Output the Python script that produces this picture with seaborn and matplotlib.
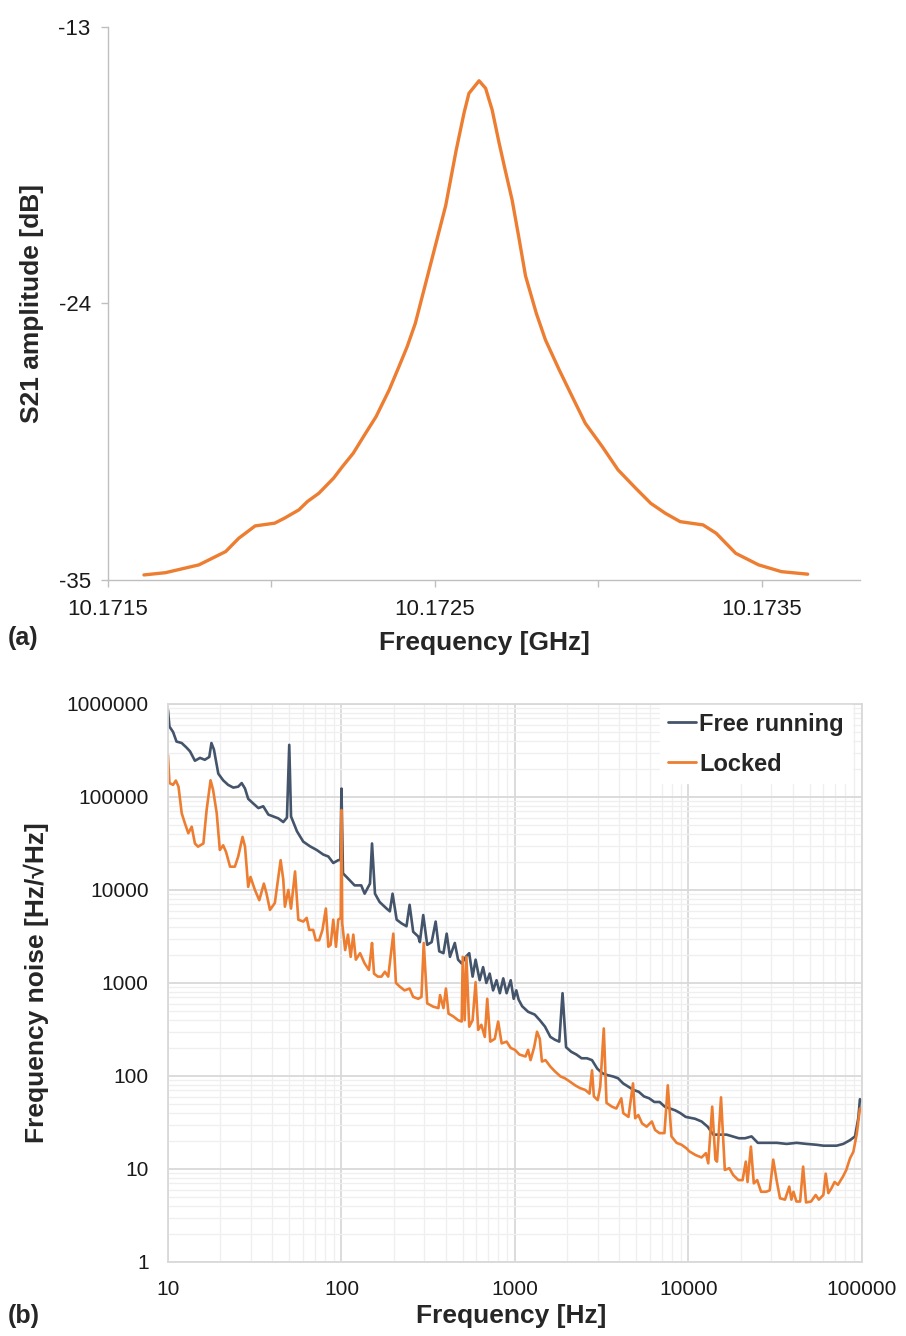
import pandas as pd
import matplotlib
matplotlib.use("Agg")
import matplotlib.pyplot as plt
import matplotlib.ticker as mticker
import seaborn as sns

# ---- panel (a): S21 resonance ----
s21_freq_ghz = [10.17161, 10.171676, 10.171778, 10.17186, 10.1719, 10.17195, 10.17201,
                10.17204, 10.172084, 10.17211, 10.172145, 10.17219, 10.172217, 10.17225,
                10.172288, 10.17232, 10.17236, 10.17239, 10.172415, 10.17244, 10.172461,
                10.17249, 10.172533, 10.172565, 10.172589, 10.172604, 10.172635, 10.172655,
                10.172675, 10.172696, 10.172715, 10.172736, 10.172757, 10.172777, 10.17281,
                10.172838, 10.17288, 10.17292, 10.17296, 10.173012, 10.17306, 10.173114,
                10.17316, 10.173205, 10.17325, 10.17332, 10.17336, 10.17342, 10.17349,
                10.17356, 10.17364]
s21_db = [-34.80, -34.71, -34.40, -33.87, -33.34, -32.85, -32.74,
          -32.54, -32.21, -31.88, -31.55, -30.95, -30.49, -29.96,
          -29.16, -28.50, -27.44, -26.51, -25.72, -24.79, -23.73,
          -22.27, -20.10, -17.90, -16.42, -15.64, -15.14, -15.44,
          -16.30, -17.60, -18.70, -19.88, -21.40, -22.90, -24.39,
          -25.45, -26.64, -27.71, -28.77, -29.70, -30.62, -31.35,
          -31.95, -32.35, -32.68, -32.81, -33.14, -33.94, -34.40,
          -34.67, -34.77]

# ---- panel (b): frequency noise spectra ----
free_freq = [10, 10.2, 10.7, 11.2, 12.0, 12.8, 13.4, 14.3, 15.3, 16.3, 17.3, 17.8, 18.4,
             19.5, 20.8, 22.2, 23.8, 25.4, 26.6, 27.8, 29.0, 31.0, 33.2, 35.4, 37.9,
             40.5, 43.2, 46.2, 48.5, 50, 51.2, 55.4, 60.2, 65.8, 72, 78.6, 84, 89.7,
             95.8, 98.5, 100, 102, 109, 119, 130, 136, 146, 150, 156, 166, 182, 190,
             197, 208, 222, 237, 247, 259, 277, 283, 296, 312, 331, 349, 366, 387,
             404, 422, 450, 470, 493, 521, 545, 570, 593, 626, 655, 684, 715, 748,
             783, 818, 856, 895, 945, 983, 1018, 1050, 1100, 1190, 1300, 1390, 1490,
             1600, 1700, 1800, 1880, 1970, 2110, 2260, 2420, 2600, 2780, 2980, 3190,
             3420, 3670, 3930, 4200, 4500, 4820, 5170, 5540, 5940, 6360, 6820, 7300,
             7830, 8390, 8990, 9640, 10900, 11900, 12900, 13900, 14600, 16600, 18000,
             19500, 21200, 23100, 25100, 28200, 32300, 36800, 42000, 48000, 54800,
             59900, 65400, 71400, 78000, 85300, 91200, 95300, 97300, 100000]
free_noise = [861000, 570000, 500000, 394000, 380000, 339000, 309000, 245000, 263000,
              251000, 269000, 380000, 324000, 178000, 151000, 135000, 126000, 129000,
              141000, 123000, 95500, 85100, 75900, 79400, 64600, 61700, 58900, 53700,
              60000, 363000, 61700, 42700, 33100, 29500, 26900, 24000, 22900, 19500,
              20900, 21000, 123000, 15100, 13300, 11200, 11200, 9120, 11700, 31600,
              9120, 7410, 6310, 5890, 9120, 4790, 4370, 4070, 6920, 3550, 3160, 2750,
              5370, 2570, 2750, 4570, 2190, 2090, 3390, 1910, 2690, 1780, 1620, 1910,
              2090, 1170, 1780, 1070, 1480, 1000, 1260, 832, 1070, 776, 1120, 776, 1070,
              676, 832, 661, 562, 490, 457, 398, 339, 263, 245, 234, 776, 204, 182, 170,
              155, 155, 148, 120, 107, 102, 98.9, 94.4, 83.2, 76.7, 70.8, 67.6, 60.3,
              57.5, 52.5, 52.5, 46.8, 44.7, 42.7, 39.8, 36.3, 34.7, 32.4, 28.5, 23.4,
              23.4, 23.4, 22.4, 21.4, 21.4, 22.4, 19.1, 19.1, 19.1, 18.6, 19.1, 18.6,
              18.2, 17.8, 17.8, 17.8, 18.6, 20.4, 22.4, 35.5, 56.2, 53.7]

locked_freq = [10, 10.2, 10.7, 11.1, 11.5, 12.0, 12.5, 13.1, 13.7, 14.3, 14.9, 16.0, 16.7,
               17.6, 18.2, 19.1, 19.9, 20.8, 21.6, 22.8, 24.3, 25.4, 26.9, 27.8, 29.0,
               29.9, 31.7, 33.6, 35.7, 37.0, 38.7, 41.3, 44.6, 46.2, 47.2, 49.4, 51.2,
               54, 56.4, 60.2, 63.0, 65.2, 68.7, 71.1, 74.4, 77.7, 81.3, 84, 86.6, 89.7,
               93, 95.8, 99, 100, 101, 105, 109, 113, 117, 121, 128, 136, 144, 147, 150,
               154, 162, 170, 178, 186, 191, 199, 206, 217, 231, 247, 259, 277, 289, 298,
               312, 338, 362, 370, 387, 400, 414, 441, 470, 493, 500, 513, 525, 545, 570,
               593, 614, 640, 670, 692, 721, 765, 800, 838, 895, 945, 1000, 1060, 1150,
               1190, 1230, 1290, 1340, 1390, 1430, 1500, 1600, 1700, 1830, 1940, 2070,
               2220, 2370, 2540, 2690, 2780, 2850, 3000, 3100, 3250, 3370, 3620, 3840,
               4100, 4210, 4510, 4790, 4930, 5140, 5400, 5740, 6150, 6420, 6800, 7270,
               7600, 7980, 8540, 9130, 9770, 10100, 11000, 11900, 12600, 13000, 13700,
               14300, 14600, 15400, 16200, 17200, 18100, 19400, 20500, 21400, 21900,
               22900, 23800, 24900, 26200, 28000, 29400, 30800, 32200, 33700, 36000,
               38100, 39200, 40300, 41900, 44000, 45800, 47600, 50900, 54100, 56400,
               59900, 61800, 64000, 66600, 69500, 72700, 77800, 81200, 85300, 89200,
               93400, 97300, 100000]
locked_noise = [282000, 141000, 135000, 150000, 129000, 66800, 52500, 40700, 47900, 31600,
                29200, 31600, 72400, 151000, 119000, 66800, 26900, 30200, 25700, 17800,
                17800, 22900, 37200, 29200, 10800, 13800, 10000, 7760, 11700, 9120, 6100,
                7240, 20900, 12900, 6610, 10000, 6310, 15800, 4790, 4570, 5010, 3720, 3720,
                2880, 2880, 3720, 6310, 2450, 2570, 4790, 2450, 4790, 5000, 72400, 4370,
                2260, 3310, 1910, 3310, 1780, 2090, 1620, 1380, 1910, 2690, 1260, 1170,
                1170, 1320, 1170, 1780, 3390, 1000, 912, 832, 871, 708, 676, 708, 2690,
                603, 556, 537, 741, 537, 871, 468, 437, 398, 385, 1910, 398, 1910, 339,
                398, 1020, 313, 355, 263, 676, 234, 251, 385, 224, 234, 200, 191, 170, 162,
                191, 148, 204, 299, 251, 143, 148, 126, 112, 98.9, 94.4, 87.1, 79.4, 74.1,
                70.8, 64.6, 115, 60.3, 55.0, 76.7, 324, 51.3, 46.8, 44.7, 57.5, 39.8, 36.3,
                83.2, 35.1, 38.0, 30.9, 28.5, 32.4, 26.3, 24.3, 24.3, 79.4, 22.4, 19.1,
                18.2, 16.6, 15.5, 14.1, 13.3, 14.8, 11.5, 46.8, 12.6, 12.0, 58.9, 9.77,
                10.2, 8.61, 7.59, 7.59, 12.0, 7.24, 17.4, 7.00, 7.59, 5.69, 5.69, 5.89,
                12.6, 7.59, 4.84, 4.68, 6.46, 4.68, 5.69, 4.47, 4.47, 10.6, 4.37, 4.47,
                5.25, 4.68, 5.25, 8.91, 5.50, 6.17, 7.24, 6.76, 8.32, 9.77, 13.0, 15.3,
                24.0, 44.7, 44.7]

series_names = ["Free running", "Locked"]
x_decades = [10, 100, 1000, 10000, 100000]
y_decades = [1, 10, 100, 1000, 10000, 100000, 1000000]
orange = "#ED7D31"
slate = "#44546A"

sns.set_style("white")
plt.rcParams["font.family"] = ["Liberation Sans", "DejaVu Sans"]
plt.rcParams["axes.unicode_minus"] = False

fig = plt.figure(figsize=(9.06, 13.36), dpi=100)
ax1 = fig.add_axes([0.1192, 0.5659, 0.8300, 0.4139])
ax2 = fig.add_axes([0.1854, 0.0554, 0.7660, 0.4177])

# top panel
df_a = pd.DataFrame({"freq": s21_freq_ghz, "s21": s21_db})
sns.lineplot(data=df_a, x="freq", y="s21", ax=ax1, color=orange, linewidth=2.4,
             estimator=None)
ax1.set_xlim(10.1715, 10.1738)
ax1.set_ylim(-35, -13)
ax1.set_yticks([-35, -24, -13])
ax1.set_xticks([10.1715, 10.1725, 10.1735])
ax1.set_xticks([10.1720, 10.1730], minor=True)
ax1.xaxis.set_major_formatter(mticker.FuncFormatter(lambda v, p: f"{v:.4f}"))
for side in ["top", "right"]:
    ax1.spines[side].set_visible(False)
for side in ["left", "bottom"]:
    ax1.spines[side].set_color("#bfbfbf")
    ax1.spines[side].set_linewidth(1.0)
ax1.tick_params(axis="both", which="both", direction="out", color="#bfbfbf",
                labelsize=16, labelcolor="#1a1a1a")
ax1.tick_params(axis="x", which="both", length=5, width=1, pad=9, bottom=True)
ax1.tick_params(axis="y", length=5, width=1, pad=7.5, left=True)
ax1.set_xlabel("Frequency [GHz]", fontsize=19, fontweight="bold")
ax1.set_ylabel("S21 amplitude [dB]", fontsize=19, fontweight="bold")
ax1.xaxis.set_label_coords(0.5, -0.093)
ax1.yaxis.set_label_coords(-0.085, 0.5)

# bottom panel
df_b = pd.concat([
    pd.DataFrame({"freq": free_freq, "noise": free_noise, "series": series_names[0]}),
    pd.DataFrame({"freq": locked_freq, "noise": locked_noise, "series": series_names[1]}),
])
sns.lineplot(data=df_b, x="freq", y="noise", hue="series", ax=ax2,
             palette={series_names[0]: slate, series_names[1]: orange},
             linewidth=1.9, estimator=None, legend=True)
ax2.set_xscale("log")
ax2.set_yscale("log")
ax2.set_xlim(10, 100000)
ax2.set_ylim(1, 1000000)
ax2.set_xticks(x_decades, [str(v) for v in x_decades])
ax2.set_yticks(y_decades, [str(v) for v in y_decades])
x_minor = [d * k for d in x_decades[:-1] for k in range(2, 10)]
y_minor = [d * k for d in y_decades[:-1] for k in range(2, 10)]
ax2.xaxis.set_minor_locator(mticker.FixedLocator(x_minor))
ax2.yaxis.set_minor_locator(mticker.FixedLocator(y_minor))
ax2.xaxis.set_minor_formatter(mticker.NullFormatter())
ax2.yaxis.set_minor_formatter(mticker.NullFormatter())
ax2.grid(True, which="minor", color="#efefef", linewidth=0.9)
ax2.grid(True, which="major", color="#d9d9d9", linewidth=1.3)
ax2.set_axisbelow(True)
for side in ax2.spines:
    ax2.spines[side].set_color("#d9d9d9")
    ax2.spines[side].set_linewidth(1.3)
ax2.tick_params(axis="both", which="both", length=0, labelsize=15, labelcolor="#1a1a1a")
ax2.tick_params(axis="x", pad=13)
ax2.tick_params(axis="y", pad=14)
ax2.set_xlabel("Frequency [Hz]", fontsize=19, fontweight="bold")
ax2.set_ylabel("Frequency noise [Hz/\u221aHz]", fontsize=19, fontweight="bold")
ax2.xaxis.set_label_coords(0.495, -0.076)
ax2.yaxis.set_label_coords(-0.172, 0.5)

leg = ax2.legend(loc="upper right", bbox_to_anchor=(0.985, 0.998), borderaxespad=0,
                 frameon=True, fancybox=False, framealpha=1, facecolor="white",
                 edgecolor="white", prop={"weight": "bold", "size": 17},
                 handlelength=1.2, handletextpad=0.15, labelspacing=0.72, borderpad=0.32)
for line in leg.get_lines():
    line.set_linewidth(2.0)

fig.text(8 / 906, 1 - 638 / 1336, "(a)", fontsize=18, fontweight="bold", va="center")
fig.text(8 / 906, 1 - 1316 / 1336, "(b)", fontsize=18, fontweight="bold", va="center")

fig.savefig("out.png", dpi=100)
